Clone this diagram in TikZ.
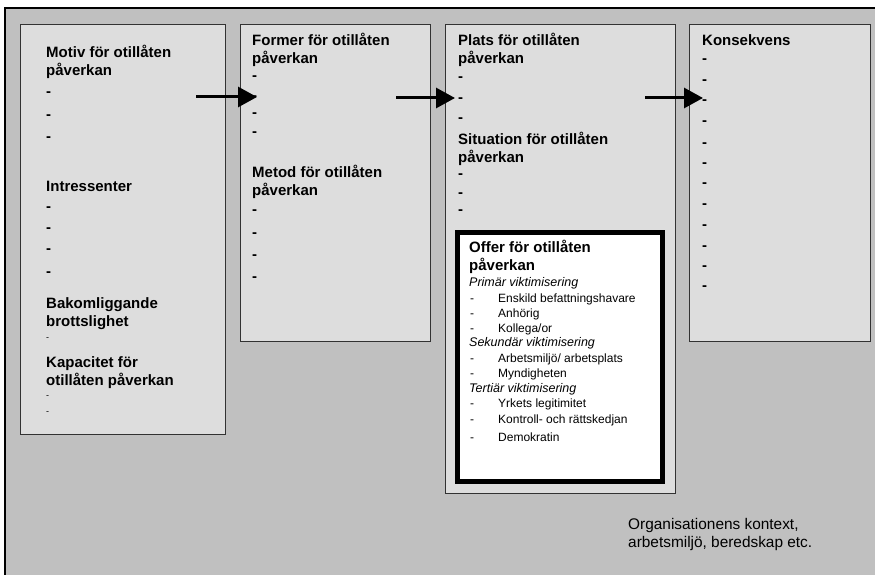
\documentclass[tikz,border=0pt]{standalone}
\usepackage{fontspec}
\setmainfont{Liberation Sans}
\usetikzlibrary{arrows.meta}
\definecolor{outergray}{RGB}{192,192,192}
\definecolor{panelgray}{RGB}{221,221,221}
\definecolor{edgegray}{RGB}{50,50,50}
\begin{document}
\begin{tikzpicture}[x=1pt, y=-1pt,
	panel/.style={draw=edgegray, fill=panelgray, line width=1pt, anchor=north west, inner sep=0pt},
	offerbox/.style={draw=black, fill=white, line width=5pt, anchor=north west, inner sep=0pt},
	heading/.style={anchor=base west, inner sep=0pt, font=\fontsize{15}{18}\selectfont\bfseries},
	bullet/.style={anchor=base west, inner sep=0pt, font=\fontsize{15}{18}\selectfont\bfseries},
	smallbullet/.style={anchor=base west, inner sep=0pt, font=\fontsize{9}{11}\selectfont},
	entry/.style={anchor=base west, inner sep=0pt, font=\fontsize{12}{15}\selectfont},
	subhead/.style={anchor=base west, inner sep=0pt, font=\fontsize{12.5}{15}\selectfont\itshape},
	note/.style={anchor=base west, inner sep=0pt, font=\fontsize{15.4}{18}\selectfont},
	flow/.style={line width=3pt, -{Triangle[length=19pt, width=20pt]}}
	]
	\useasboundingbox (0,0) rectangle (875,575);
	\clip (0,0) rectangle (875,575);
	%background frame
	\draw[line width=1.2pt, fill=outergray] (5,8) rectangle (895,595);
	
	%columns
	\node[panel, minimum width=205pt, minimum height=410pt] (motiv) at (20,24) {};
	\node[panel, minimum width=190pt, minimum height=317pt] (former) at (240,24) {};
	\node[panel, minimum width=230pt, minimum height=469pt] (plats) at (445,24) {};
	\node[panel, minimum width=181pt, minimum height=317pt] (konsekvens) at (689,24) {};
	\node[offerbox, minimum width=205pt, minimum height=249pt] (offer) at (454.5,229.5) {};
	
	%first column
	\node[heading] (motiv1) at (46,58) {Motiv för otillåten};
	\node[heading] (motiv2) at (46,76) {påverkan};
	\foreach \y [count=\i] in {97, 120, 142}{
		\node[bullet] (motivd\i) at (46,\y) {-};
	}
	\node[heading] (intr) at (46,191) {Intressenter};
	\foreach \y [count=\i] in {211, 232, 253, 276}{
		\node[bullet] (intrd\i) at (46,\y) {-};
	}
	\node[heading] (bakom1) at (46,308) {Bakomliggande};
	\node[heading] (bakom2) at (46,326) {brottslighet};
	\node[smallbullet] (bakomd1) at (46,340) {-};
	\node[heading] (kap1) at (46,367) {Kapacitet för};
	\node[heading] (kap2) at (46,385) {otillåten påverkan};
	\node[smallbullet] (kapd1) at (46,398) {-};
	\node[smallbullet] (kapd2) at (46,414) {-};
	
	%second column
	\node[heading] (former1) at (252,46) {Former för otillåten};
	\node[heading] (former2) at (252,64) {påverkan};
	\foreach \y [count=\i] in {81, 101, 118, 137}{
		\node[bullet] (formerd\i) at (252,\y) {-};
	}
	\node[heading] (metod1) at (252,177) {Metod för otillåten};
	\node[heading] (metod2) at (252,195) {påverkan};
	\foreach \y [count=\i] in {214, 237, 259, 281}{
		\node[bullet] (metodd\i) at (252,\y) {-};
	}
	
	%third column
	\node[heading] (plats1) at (458,46) {Plats för otillåten};
	\node[heading] (plats2) at (458,64) {påverkan};
	\foreach \y [count=\i] in {82, 103, 123}{
		\node[bullet] (platsd\i) at (458,\y) {-};
	}
	\node[heading] (sit1) at (458,144) {Situation för otillåten};
	\node[heading] (sit2) at (458,162) {påverkan};
	\foreach \y [count=\i] in {178, 197, 214}{
		\node[bullet] (sitd\i) at (458,\y) {-};
	}
	
	%victims
	\node[heading] (offer1) at (469,252) {Offer för otillåten};
	\node[heading] (offer2) at (469,270) {påverkan};
	\node[subhead] (prim) at (469,286) {Primär viktimisering};
	\node[subhead] (sek) at (469,346) {Sekundär viktimisering};
	\node[subhead] (ter) at (469,392) {Tertiär viktimisering};
	\foreach \y/\t [count=\i] in {302/Enskild befattningshavare, 317/Anhörig, 332/Kollega\slash or,
		362/Arbetsmiljö\slash{} arbetsplats, 377/Myndigheten,
		407/Yrkets legitimitet, 423/Kontroll- och rättskedjan, 441/Demokratin}{
		\node[entry] (offerd\i) at (470,\y) {-};
		\node[entry] (offert\i) at (498,\y) {\t};
	}
	
	%last column
	\node[heading] (kons) at (702,46) {Konsekvens};
	\foreach \y [count=\i] in {64, 85, 105, 126, 147, 167, 187, 208, 229, 250, 270, 290}{
		\node[bullet] (konsd\i) at (702,\y) {-};
	}
	
	\node[note] (org1) at (628,529) {Organisationens kontext,};
	\node[note] (org2) at (628,547) {arbetsmiljö, beredskap etc.};
	
	%arrows
	\coordinate (f1) at (196,97);
	\coordinate (t1) at (257,97);
	\coordinate (f2) at (396,98);
	\coordinate (t2) at (455,98);
	\coordinate (f3) at (645,98);
	\coordinate (t3) at (703,98);
	\draw[flow] (f1) -- (t1);
	\draw[flow] (f2) -- (t2);
	\draw[flow] (f3) -- (t3);
\end{tikzpicture}
\end{document}
